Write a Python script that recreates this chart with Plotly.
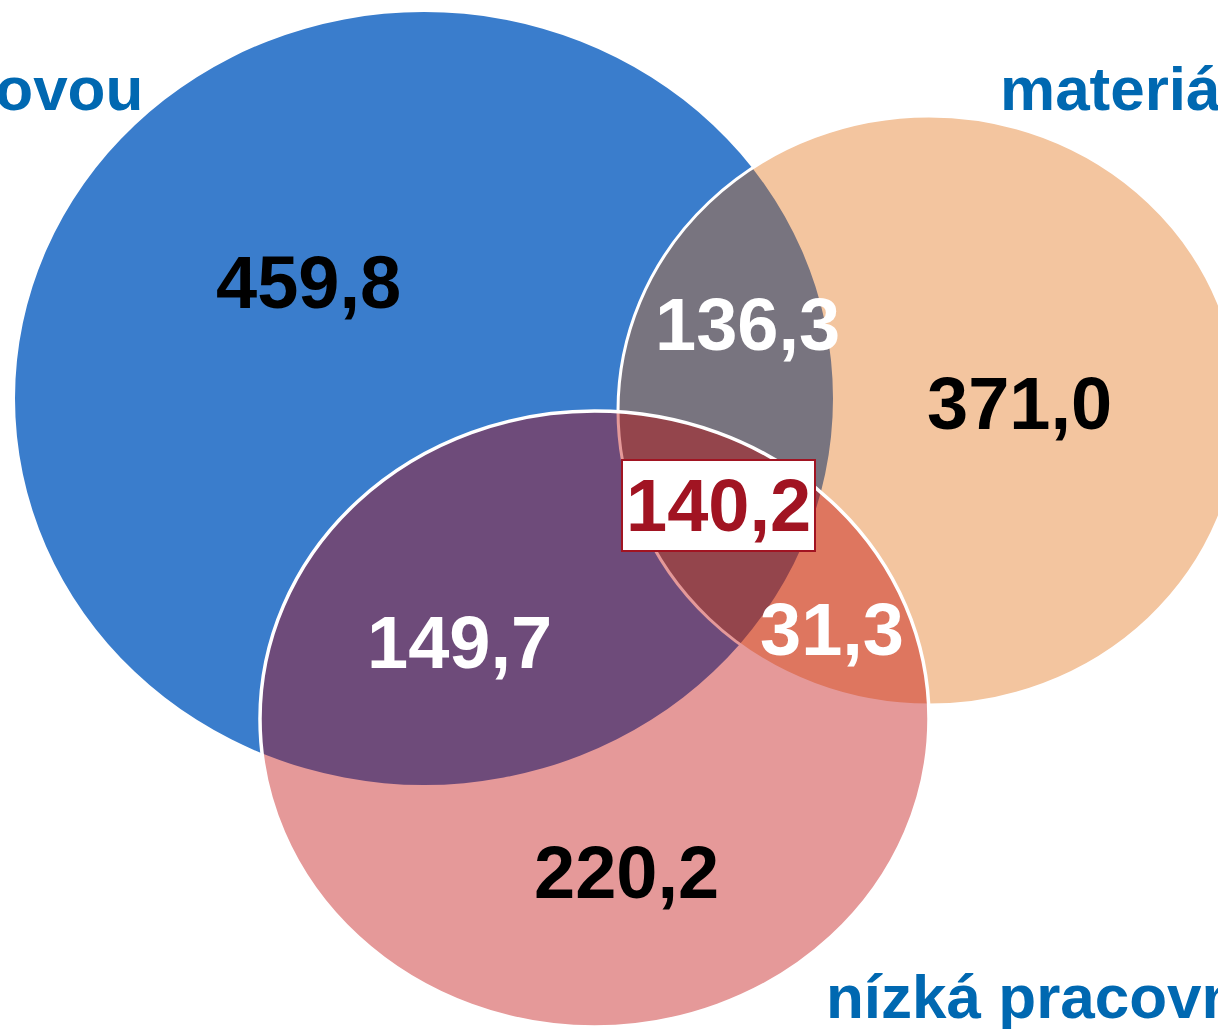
import plotly.graph_objects as go

# ---- data ----
set_names = ["s nízkou mzdovou", "materiálová náročnost", "nízká pracovní produktivita"]
region_names = ["A", "B", "C", "A∩B", "A∩C", "B∩C", "A∩B∩C"]
region_values = [459.8, 371.0, 220.2, 136.3, 149.7, 31.3, 140.2]

# ---- layout geometry (pixels of the 1218x1029 canvas) ----
W, H = 1218, 1029
ellipse_geom = [  # cx, cy, rx, ry
    (424, 398.5, 409, 386.5),
    (929, 410.5, 311, 294.5),
    (594.5, 719, 334.5, 308),
]
ellipse_fill = ["rgb(58,125,204)", "rgba(223,100,0,0.375)", "rgba(190,0,0,0.40)"]
ellipse_line = [0, 3, 3.5]

label_pos = [(308, 282), (1019, 403), (626, 872), (747, 324), (459, 642), (832, 629), (718, 505)]
label_color = ["black", "black", "black", "white", "white", "white", "#A11422"]

set_label_pos = [(145, 88, "right"), (998, 88, "left"), (824, 996, "left")]

fig = go.Figure()
fig.add_trace(go.Scatter(x=[0, W], y=[0, H], mode="markers",
                         marker=dict(opacity=0), hoverinfo="skip", showlegend=False))

for (cx, cy, rx, ry), fc, lw in zip(ellipse_geom, ellipse_fill, ellipse_line):
    fig.add_shape(type="circle", xref="x", yref="y",
                  x0=cx - rx, x1=cx + rx, y0=cy - ry, y1=cy + ry,
                  fillcolor=fc,
                  line=dict(color="white", width=lw) if lw else dict(width=0),
                  layer="above")

def fmt(v):
    return f"{v:.1f}".replace(".", ",")

for i, (v, (x, y), c) in enumerate(zip(region_values, label_pos, label_color)):
    kw = {}
    if i == 6:
        kw = dict(bgcolor="white", bordercolor="#A11422", borderwidth=2, borderpad=3)
    fig.add_annotation(x=x, y=y, xref="x", yref="y", text=fmt(v), showarrow=False,
                       xanchor="center", yanchor="middle",
                       font=dict(family="Liberation Sans, Arial", size=74, color=c, weight=700),
                       **kw)

for name, (x, y, anc) in zip(set_names, set_label_pos):
    fig.add_annotation(x=x, y=y, xref="x", yref="y", text=name, showarrow=False,
                       xanchor=anc, yanchor="middle",
                       font=dict(family="Liberation Sans, Arial", size=62, color="#0068B1", weight=700))

fig.update_layout(
    width=W, height=H, margin=dict(l=0, r=0, t=0, b=0),
    paper_bgcolor="white", plot_bgcolor="white",
    xaxis=dict(range=[0, W], visible=False, fixedrange=True),
    yaxis=dict(range=[H, 0], visible=False, fixedrange=True),
    showlegend=False,
)
fig.write_html("out.html", config={"displayModeBar": False},
               post_script="document.body.style.margin='0';document.body.style.overflow='hidden';")
